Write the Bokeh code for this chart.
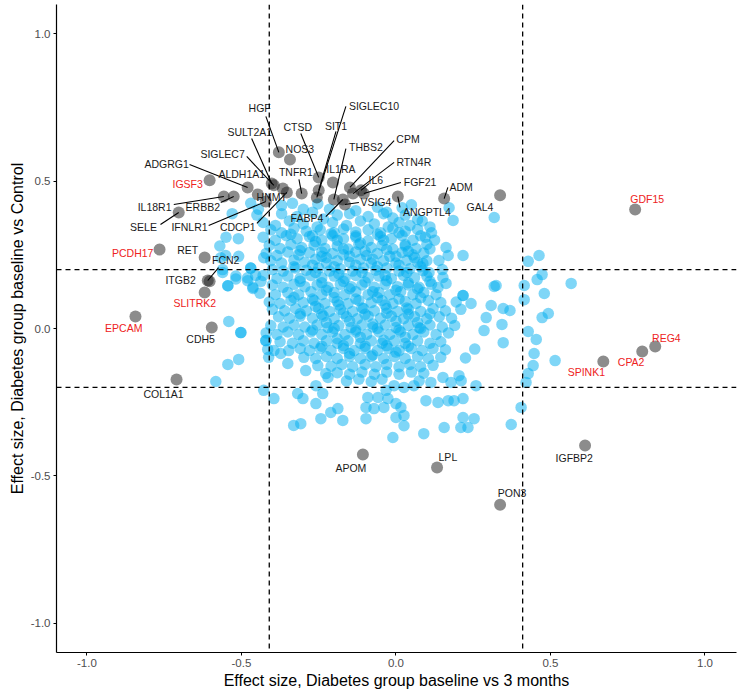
from bokeh.plotting import figure
from bokeh.models import ColumnDataSource, Span, FixedTicker
from bokeh.core.properties import value
from bokeh.embed import file_html
from bokeh.resources import INLINE

# ---------------- data ----------------
x_ticks = [-1.0, -0.5, 0.0, 0.5, 1.0]
x_tick_labels = ["-1.0", "-0.5", "0.0", "0.5", "1.0"]
y_ticks = [-1.0, -0.5, 0.0, 0.5, 1.0]
y_tick_labels = ["-1.0", "-0.5", "0.0", "0.5", "1.0"]
v_thresholds = [-0.41, 0.41]
h_thresholds = [-0.2, 0.2]

genes = ["HGF", "NOS3", "SULT2A1", "SIGLEC7", "ADGRG1", "ALDH1A1", "HNMT", "CDCP1",
         "IFNLR1", "TNFR1", "IGSF3", "ERBB2", "IL18R1", "SELE", "CTSD", "IL1RA",
         "SIT1", "SIGLEC10", "THBS2", "FABP4", "VSIG4", "CPM", "RTN4R", "IL6",
         "FGF21", "ANGPTL4", "ADM", "GAL4", "GDF15", "PCDH17", "RET", "FCN2",
         "ITGB2", "SLITRK2", "EPCAM", "CDH5", "COL1A1", "REG4", "CPA2", "SPINK1",
         "APOM", "LPL", "IGFBP2", "PON3"]
gene_x = [-0.379, -0.343, -0.402, -0.395, -0.480, -0.447, -0.366, -0.353,
          -0.421, -0.305, -0.603, -0.525, -0.557, -0.703, -0.250, -0.204,
          -0.250, -0.256, -0.201, -0.172, -0.165, -0.149, -0.139, -0.113,
          -0.104, 0.006, 0.156, 0.337, 0.774, -0.765, -0.619, -0.609,
          -0.603, -0.619, -0.843, -0.596, -0.710, 0.839, 0.797, 0.671,
          -0.107, 0.133, 0.612, 0.337]
gene_y = [0.598, 0.574, 0.492, 0.486, 0.479, 0.455, 0.475, 0.462,
          0.431, 0.458, 0.503, 0.448, 0.448, 0.394, 0.513, 0.496,
          0.469, 0.445, 0.438, 0.438, 0.421, 0.479, 0.458, 0.469,
          0.458, 0.448, 0.441, 0.452, 0.404, 0.268, 0.241, 0.163,
          0.160, 0.122, 0.041, 0.003, -0.173, -0.061, -0.078, -0.112,
          -0.428, -0.472, -0.397, -0.598]
label_x = [-0.441, -0.311, -0.473, -0.561, -0.742, -0.499, -0.402, -0.512,
           -0.668, -0.324, -0.674, -0.625, -0.781, -0.817, -0.318, -0.178,
           -0.194, -0.071, -0.097, -0.288, -0.065, 0.039, 0.058, -0.065,
           0.078, 0.100, 0.211, 0.272, 0.813, -0.852, -0.674, -0.551,
           -0.697, -0.651, -0.881, -0.632, -0.752, 0.875, 0.761, 0.616,
           -0.146, 0.168, 0.577, 0.376]
label_y = [0.747, 0.611, 0.666, 0.594, 0.560, 0.523, 0.445, 0.343,
           0.343, 0.530, 0.489, 0.414, 0.411, 0.343, 0.683, 0.540,
           0.689, 0.754, 0.615, 0.374, 0.428, 0.642, 0.564, 0.503,
           0.496, 0.394, 0.482, 0.411, 0.438, 0.255, 0.268, 0.234,
           0.163, 0.085, 0.003, -0.034, -0.221, -0.031, -0.115, -0.149,
           -0.472, -0.435, -0.438, -0.560]
red_genes = ["IGSF3", "PCDH17", "SLITRK2", "EPCAM", "GDF15", "REG4", "CPA2", "SPINK1"]

seg_genes = ["HGF", "SULT2A1", "SIGLEC7", "CTSD", "ADGRG1", "TNFR1", "IL18R1", "ERBB2",
             "SELE", "IFNLR1", "CDCP1", "SIGLEC10", "SIT1", "THBS2", "CPM", "RTN4R",
             "IL6", "FGF21", "VSIG4", "FABP4", "ANGPTL4", "ADM", "FCN2"]
seg_x0 = [-0.421, -0.467, -0.483, -0.308, -0.668, -0.314, -0.719, -0.567,
          -0.762, -0.606, -0.450, -0.162, -0.194, -0.162, -0.006, -0.006,
          -0.087, 0.016, -0.120, -0.227, 0.013, 0.168, -0.574]
seg_y0 = [0.720, 0.645, 0.584, 0.662, 0.557, 0.506, 0.421, 0.428,
          0.353, 0.350, 0.357, 0.754, 0.669, 0.611, 0.638, 0.564,
          0.492, 0.496, 0.428, 0.380, 0.411, 0.479, 0.207]

# non-labelled proteins, grouped by region
blue_upper = [(-0.47, 0.425), (-0.445, 0.405), (-0.37, 0.418), (-0.335, 0.425), (-0.30, 0.405),
              (-0.253, 0.423), (-0.215, 0.405), (-0.13, 0.40), (-0.06, 0.412), (-0.03, 0.395),
              (0.02, 0.41), (0.05, 0.42), (0.172, 0.41), (0.185, 0.367), (0.318, 0.377),
              (-0.53, 0.39), (-0.45, 0.385), (-0.37, 0.39), (-0.32, 0.38), (-0.27, 0.395),
              (-0.235, 0.372), (-0.19, 0.385), (-0.15, 0.39), (-0.09, 0.38), (-0.04, 0.39),
              (-0.01, 0.375), (0.03, 0.385), (0.07, 0.37),
              (-0.43, 0.36), (-0.39, 0.35), (-0.345, 0.365), (-0.30, 0.355), (-0.255, 0.345),
              (-0.205, 0.36), (-0.16, 0.35), (-0.115, 0.365), (-0.07, 0.355), (-0.025, 0.345),
              (0.01, 0.36), (0.045, 0.35), (0.085, 0.365), (0.11, 0.345)]
blue_core_top = [(-0.405, 0.335), (-0.37, 0.325), (-0.33, 0.34), (-0.29, 0.33), (-0.245, 0.335),
                 (-0.21, 0.322), (-0.17, 0.338), (-0.13, 0.328), (-0.09, 0.335), (-0.05, 0.325),
                 (-0.01, 0.34), (0.03, 0.33), (0.07, 0.336), (0.115, 0.325),
                 (-0.55, 0.31), (-0.51, 0.305), (-0.43, 0.31), (-0.39, 0.30), (-0.355, 0.315),
                 (-0.32, 0.305), (-0.28, 0.312), (-0.24, 0.30), (-0.205, 0.315), (-0.17, 0.305),
                 (-0.13, 0.31), (-0.09, 0.298), (-0.05, 0.312), (-0.015, 0.305), (0.02, 0.315),
                 (0.055, 0.30), (0.095, 0.31), (0.125, 0.30),
                 (-0.57, 0.28), (-0.41, 0.282), (-0.375, 0.272), (-0.34, 0.285), (-0.305, 0.275),
                 (-0.265, 0.283), (-0.23, 0.272), (-0.19, 0.28), (-0.155, 0.27), (-0.12, 0.285),
                 (-0.08, 0.275), (-0.045, 0.282), (-0.01, 0.27), (0.03, 0.28), (0.065, 0.272),
                 (0.10, 0.285), (0.162, 0.275),
                 (-0.42, 0.255), (-0.385, 0.248), (-0.35, 0.26), (-0.315, 0.25), (-0.28, 0.258),
                 (-0.24, 0.245), (-0.205, 0.255), (-0.17, 0.25), (-0.13, 0.26), (-0.095, 0.248),
                 (-0.06, 0.255), (-0.02, 0.245), (0.02, 0.258), (0.055, 0.25), (0.09, 0.256),
                 (0.169, 0.248), (0.217, 0.248),
                 (-0.405, 0.23), (-0.37, 0.222), (-0.33, 0.232), (-0.295, 0.225), (-0.26, 0.235),
                 (-0.225, 0.222), (-0.19, 0.23), (-0.15, 0.225), (-0.115, 0.235), (-0.08, 0.222),
                 (-0.04, 0.23), (0.00, 0.222), (0.035, 0.232), (0.07, 0.225), (0.10, 0.23),
                 (0.139, 0.231), (0.087, 0.221)]
blue_core_mid = [(-0.561, 0.20), (-0.47, 0.205), (-0.40, 0.20), (-0.365, 0.195), (-0.325, 0.205),
                 (-0.29, 0.198), (-0.25, 0.205), (-0.215, 0.195), (-0.18, 0.203), (-0.14, 0.195),
                 (-0.105, 0.205), (-0.065, 0.198), (-0.03, 0.205), (0.01, 0.195), (0.045, 0.203),
                 (0.087, 0.196), (0.107, 0.19), (0.15, 0.20),
                 (-0.518, 0.178), (-0.48, 0.172), (-0.43, 0.18), (-0.385, 0.17), (-0.35, 0.178),
                 (-0.31, 0.17), (-0.275, 0.18), (-0.24, 0.172), (-0.20, 0.178), (-0.165, 0.17),
                 (-0.13, 0.18), (-0.09, 0.172), (-0.055, 0.178), (-0.015, 0.17), (0.025, 0.18),
                 (0.06, 0.172), (0.10, 0.178), (0.152, 0.173),
                 (-0.544, 0.145), (-0.463, 0.14), (-0.40, 0.148), (-0.365, 0.14), (-0.33, 0.15),
                 (-0.295, 0.142), (-0.255, 0.148), (-0.22, 0.14), (-0.18, 0.15), (-0.145, 0.142),
                 (-0.11, 0.148), (-0.07, 0.14), (-0.035, 0.15), (0.005, 0.142), (0.04, 0.148),
                 (0.075, 0.14), (0.115, 0.15), (0.136, 0.139), (0.162, 0.153),
                 (-0.44, 0.12), (-0.39, 0.115), (-0.35, 0.122), (-0.315, 0.115), (-0.275, 0.125),
                 (-0.24, 0.115), (-0.20, 0.122), (-0.165, 0.115), (-0.13, 0.125), (-0.09, 0.115),
                 (-0.055, 0.122), (-0.02, 0.115), (0.015, 0.125), (0.055, 0.115), (0.09, 0.122),
                 (0.13, 0.115), (0.217, 0.112),
                 (-0.41, 0.09), (-0.375, 0.085), (-0.34, 0.095), (-0.30, 0.088), (-0.265, 0.095),
                 (-0.23, 0.085), (-0.19, 0.092), (-0.155, 0.085), (-0.12, 0.095), (-0.08, 0.088),
                 (-0.045, 0.095), (-0.01, 0.085), (0.03, 0.092), (0.065, 0.085), (0.105, 0.095),
                 (0.145, 0.088), (0.195, 0.09), (0.243, 0.085),
                 (-0.40, 0.065), (-0.36, 0.06), (-0.325, 0.068), (-0.29, 0.06), (-0.25, 0.068),
                 (-0.215, 0.058), (-0.18, 0.065), (-0.14, 0.058), (-0.105, 0.068), (-0.07, 0.06),
                 (-0.03, 0.068), (0.005, 0.058), (0.04, 0.065), (0.08, 0.058), (0.12, 0.068),
                 (0.16, 0.06), (0.21, 0.065)]
blue_core_low = [(-0.541, 0.024), (-0.38, 0.04), (-0.345, 0.035), (-0.31, 0.042), (-0.27, 0.035),
                 (-0.235, 0.042), (-0.20, 0.033), (-0.16, 0.04), (-0.125, 0.033), (-0.09, 0.042),
                 (-0.05, 0.035), (-0.015, 0.042), (0.025, 0.033), (0.06, 0.04), (0.10, 0.033),
                 (0.14, 0.04), (0.18, 0.035),
                 (-0.405, 0.01), (-0.365, 0.005), (-0.33, 0.012), (-0.295, 0.005), (-0.255, 0.012),
                 (-0.22, 0.003), (-0.185, 0.01), (-0.145, 0.003), (-0.11, 0.012), (-0.075, 0.005),
                 (-0.035, 0.012), (0.00, 0.003), (0.04, 0.01), (0.075, 0.003), (0.11, 0.012),
                 (0.15, 0.005), (0.19, 0.01), (0.285, -0.007),
                 (-0.502, -0.014), (-0.42, -0.015), (-0.385, -0.02), (-0.35, -0.012), (-0.315, -0.02),
                 (-0.275, -0.012), (-0.24, -0.02), (-0.205, -0.012), (-0.165, -0.02), (-0.13, -0.012),
                 (-0.095, -0.02), (-0.055, -0.012), (-0.02, -0.02), (0.015, -0.012), (0.055, -0.02),
                 (0.09, -0.012), (0.13, -0.02), (0.17, -0.015),
                 (-0.421, -0.041), (-0.375, -0.045), (-0.335, -0.05), (-0.30, -0.042), (-0.265, -0.05),
                 (-0.225, -0.042), (-0.19, -0.05), (-0.155, -0.042), (-0.115, -0.05), (-0.08, -0.042),
                 (-0.045, -0.05), (-0.005, -0.042), (0.03, -0.05), (0.07, -0.042), (0.11, -0.05),
                 (0.145, -0.045), (0.347, -0.048),
                 (-0.415, -0.071), (-0.395, -0.075), (-0.347, -0.075), (-0.31, -0.068), (-0.28, -0.075),
                 (-0.245, -0.068), (-0.21, -0.075), (-0.17, -0.068), (-0.135, -0.075), (-0.10, -0.068),
                 (-0.06, -0.075), (-0.025, -0.068), (0.01, -0.075), (0.05, -0.068), (0.085, -0.075),
                 (0.12, -0.068), (0.16, -0.072), (0.255, -0.07),
                 (-0.509, -0.105), (-0.412, -0.098), (-0.373, -0.085), (-0.298, -0.098), (-0.26, -0.102),
                 (-0.225, -0.095), (-0.19, -0.102), (-0.15, -0.095), (-0.115, -0.102), (-0.08, -0.095),
                 (-0.04, -0.102), (-0.005, -0.095), (0.03, -0.102), (0.07, -0.095), (0.105, -0.102),
                 (0.145, -0.098), (0.225, -0.10),
                 (-0.544, -0.122), (-0.35, -0.119), (-0.253, -0.126), (-0.21, -0.128), (-0.175, -0.122),
                 (-0.14, -0.13), (-0.10, -0.122), (-0.065, -0.13), (-0.03, -0.122), (0.01, -0.13),
                 (0.045, -0.122), (0.08, -0.13), (0.12, -0.125)]
blue_center = [(-0.26, 0.295), (-0.19, 0.30), (-0.115, 0.29), (-0.04, 0.30), (0.03, 0.285),
               (-0.225, 0.24), (-0.15, 0.245), (-0.075, 0.235), (0.0, 0.245), (0.06, 0.24),
               (-0.26, 0.19), (-0.185, 0.185), (-0.11, 0.19), (-0.035, 0.18), (0.035, 0.19),
               (-0.225, 0.13), (-0.15, 0.135), (-0.075, 0.125), (0.0, 0.13), (0.07, 0.135),
               (-0.26, 0.075), (-0.185, 0.08), (-0.11, 0.07), (-0.035, 0.08), (0.035, 0.07),
               (-0.225, 0.02), (-0.15, 0.025), (-0.075, 0.015), (0.0, 0.025), (0.07, 0.02),
               (-0.19, -0.035), (-0.115, -0.03), (-0.04, -0.04), (0.03, -0.03),
               (-0.15, -0.085), (-0.075, -0.09), (0.0, -0.08)]
blue_center2 = [(-0.34, 0.32), (-0.27, 0.315), (-0.20, 0.325), (-0.13, 0.315), (-0.06, 0.32),
                (0.01, 0.325), (0.08, 0.315), (-0.31, 0.265), (-0.24, 0.26), (-0.17, 0.27),
                (-0.10, 0.262), (-0.03, 0.268), (0.04, 0.262), (0.11, 0.27), (-0.33, 0.21),
                (-0.27, 0.215), (-0.20, 0.21), (-0.13, 0.215), (-0.06, 0.21), (0.01, 0.215),
                (0.08, 0.21), (-0.31, 0.16), (-0.24, 0.155), (-0.17, 0.16), (-0.10, 0.158),
                (-0.03, 0.162), (0.04, 0.155), (0.11, 0.16), (-0.33, 0.105), (-0.27, 0.10),
                (-0.20, 0.105), (-0.13, 0.10), (-0.06, 0.105), (0.01, 0.10), (0.08, 0.105),
                (-0.31, 0.05), (-0.24, 0.048), (-0.17, 0.052), (-0.10, 0.048), (-0.03, 0.052),
                (0.04, 0.048), (0.11, 0.05), (-0.27, -0.005), (-0.20, 0.0), (-0.13, -0.005),
                (-0.06, 0.0), (0.01, -0.005), (0.08, 0.0), (-0.24, -0.06), (-0.17, -0.058),
                (-0.10, -0.06), (-0.03, -0.058), (0.04, -0.06)]
blue_lower = [(-0.292, -0.143), (-0.227, -0.153), (-0.22, -0.166), (-0.19, -0.15), (-0.15, -0.155),
              (-0.11, -0.148), (-0.07, -0.155), (-0.03, -0.148), (0.01, -0.155), (0.05, -0.148),
              (0.09, -0.152), (0.204, -0.16), (-0.16, -0.178), (-0.12, -0.172), (-0.08, -0.18),
              (-0.045, -0.172), (0.075, -0.178), (0.113, -0.183), (0.152, -0.166), (0.178, -0.183),
              (0.211, -0.177), (0.259, -0.194),
              (-0.583, -0.18), (-0.428, -0.21), (-0.395, -0.238), (-0.259, -0.194), (-0.237, -0.221),
              (-0.318, -0.221), (-0.301, -0.238), (-0.259, -0.255), (-0.211, -0.285), (-0.188, -0.272),
              (-0.172, -0.312), (-0.243, -0.306), (-0.331, -0.329), (-0.308, -0.323), (-0.097, -0.268),
              (-0.071, -0.272), (-0.097, -0.306), (-0.091, -0.234), (-0.058, -0.234), (-0.01, -0.37),
              (0.09, -0.357), (0.21, -0.336), (0.233, -0.336), (0.156, -0.336), (0.373, -0.326),
              (0.405, -0.268), (0.253, -0.306), (0.217, -0.302), (0.026, -0.33), (0.0, -0.302),
              (0.026, -0.295), (0.016, -0.268), (0.0, -0.255), (-0.039, -0.268), (-0.026, -0.238),
              (-0.032, -0.21), (-0.006, -0.194), (0.026, -0.2), (0.058, -0.194), (0.097, -0.245),
              (0.136, -0.251), (0.169, -0.245), (0.188, -0.245), (0.217, -0.238)]
blue_left = [(-0.47, 0.205), (-0.454, 0.18), (-0.567, 0.24), (-0.551, 0.248), (-0.509, 0.245),
             (-0.428, 0.24), (-0.561, 0.19), (-0.544, 0.145), (-0.518, 0.168), (-0.48, 0.162),
             (-0.463, 0.136), (-0.437, 0.16), (-0.502, -0.014), (-0.421, -0.041)]
blue_right = [(0.463, 0.248), (0.428, 0.228), (0.473, 0.183), (0.457, 0.166), (0.567, 0.153),
              (0.415, 0.146), (0.48, 0.119), (0.415, 0.098), (0.318, 0.143), (0.308, 0.078),
              (0.347, 0.068), (0.369, 0.061), (0.292, 0.037), (0.493, 0.051), (0.473, 0.037),
              (0.343, 0.014), (0.428, -0.01), (0.454, -0.037), (0.447, -0.085), (0.515, -0.109),
              (0.444, -0.126), (0.428, -0.153), (0.421, -0.183), (0.324, 0.146), (0.217, 0.112)]

# ---------------- figure ----------------
p = figure(width=737, height=692, output_backend="svg", toolbar_location=None,
           x_range=(-1.0985, 1.102), y_range=(-1.100, 1.100),
           min_border_left=56, min_border_right=1, min_border_top=4, min_border_bottom=40)
p.outline_line_color = None
p.xgrid.grid_line_color = None
p.ygrid.grid_line_color = None
p.background_fill_color = "white"

for loc in v_thresholds:
    p.add_layout(Span(location=loc, dimension="height", line_color="black",
                      line_dash="5 4", line_width=1.3))
for loc in h_thresholds:
    p.add_layout(Span(location=loc, dimension="width", line_color="black",
                      line_dash="5 4", line_width=1.3))

blue_pts = (blue_upper + blue_core_top + blue_core_mid + blue_core_low + blue_center
            + blue_center2 + blue_lower + blue_left + blue_right)
bx = [pt[0] for pt in blue_pts]
by = [pt[1] for pt in blue_pts]
p.scatter(bx, by, size=11.5, fill_color="#00AEEF", fill_alpha=0.5, line_color=None)

p.scatter(gene_x, gene_y, size=12, fill_color="#1A1A1A", fill_alpha=0.5, line_color=None)

pos = {g: (gene_x[i], gene_y[i]) for i, g in enumerate(genes)}
seg_x1 = [pos[g][0] for g in seg_genes]
seg_y1 = [pos[g][1] for g in seg_genes]
p.segment(seg_x0, seg_y0, seg_x1, seg_y1, line_color="black", line_width=1.1)

colors = ["#EE2222" if g in red_genes else "#1A1A1A" for g in genes]
lsrc = ColumnDataSource(dict(x=label_x, y=label_y, text=genes, color=colors))
p.text(x="x", y="y", text="text", source=lsrc, text_color="color",
       text_font=value("Liberation Sans"), text_font_size="10.5px",
       text_align="center", text_baseline="middle")

for ax in (p.xaxis[0], p.yaxis[0]):
    ax.axis_line_color = "black"
    ax.axis_line_width = 1.2
    ax.major_tick_line_color = "black"
    ax.major_tick_out = 3
    ax.major_tick_in = 0
    ax.minor_tick_line_color = None
    ax.major_label_text_font = "Liberation Sans"
    ax.major_label_text_font_size = "11.5px"
    ax.major_label_text_color = "#4D4D4D"
    ax.major_label_standoff = 3
    ax.axis_label_text_font = "Liberation Sans"
    ax.axis_label_text_font_size = "16px"
    ax.axis_label_text_font_style = "normal"
    ax.axis_label_text_color = "black"
    ax.axis_label_standoff = 2

p.xaxis.ticker = FixedTicker(ticks=x_ticks)
p.yaxis.ticker = FixedTicker(ticks=y_ticks)
p.xaxis.major_label_overrides = {t: s for t, s in zip(x_ticks, x_tick_labels)}
p.yaxis.major_label_overrides = {t: s for t, s in zip(y_ticks, y_tick_labels)}
p.xaxis.axis_label = "Effect size, Diabetes group baseline vs 3 months"
p.yaxis.axis_label = "Effect size, Diabetes group baseline vs Control"

open("out.html", "w").write(file_html(p, INLINE))
